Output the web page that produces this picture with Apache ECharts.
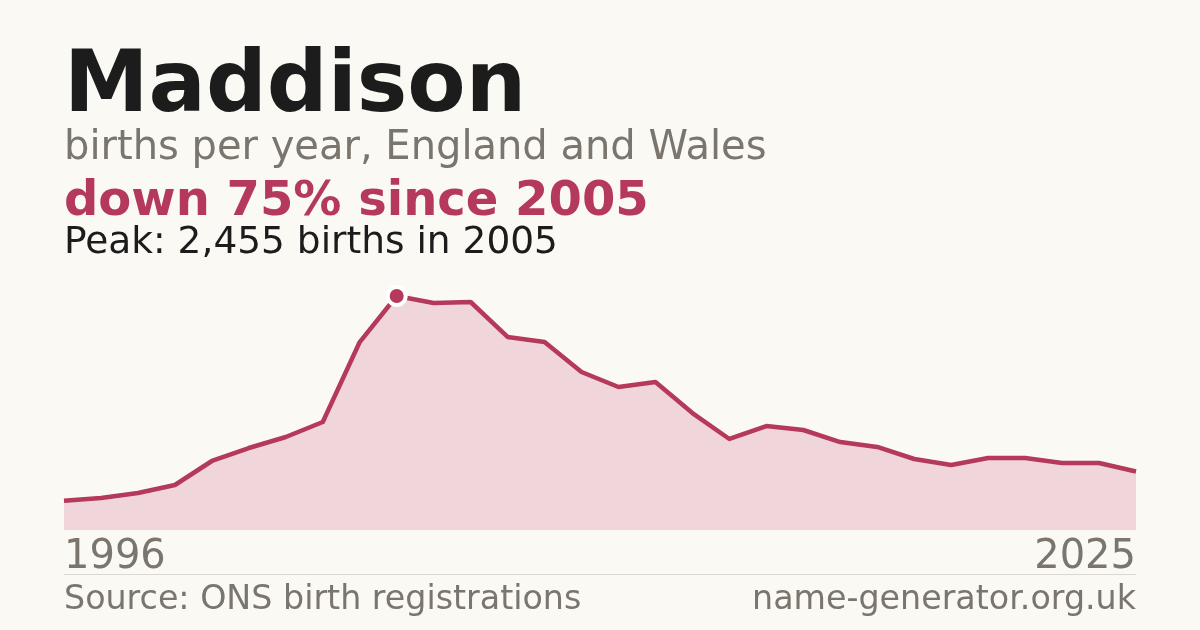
<!DOCTYPE html>
<html>
<head>
<meta charset="utf-8">
<script src="https://cdn.jsdelivr.net/npm/echarts@6/dist/echarts.min.js"></script>
<style>
  html, body { margin: 0; padding: 0; background: #faf9f4; }
  #chart { width: 1200px; height: 630px; }
</style>
</head>
<body>
<div id="chart"></div>
<script>
var years = ['1996', '1997', '1998', '1999', '2000', '2001', '2002', '2003', '2004', '2005',
  '2006', '2007', '2008', '2009', '2010', '2011', '2012', '2013', '2014', '2015',
  '2016', '2017', '2018', '2019', '2020', '2021', '2022', '2023', '2024', '2025'];
var births = [307, 336, 388, 472, 724, 860, 976, 1133, 1972, 2455,
  2381, 2392, 2025, 1972, 1658, 1500, 1553, 1227, 955, 1091,
  1049, 923, 871, 745, 682, 755, 755, 703, 703, 614];

var name = 'Maddison';
var subtitle = 'births per year, England and Wales';
var source = 'Source: ONS birth registrations';
var site = 'name-generator.org.uk';

// peak and change since peak
var peakIdx = 0;
for (var i = 1; i < births.length; i++) {
  if (births[i] > births[peakIdx]) peakIdx = i;
}
var peak = births[peakIdx];
var drop = Math.round((1 - births[births.length - 1] / peak) * 100);

var red = '#b5395a';
var grey = '#7a756d';
var font = 'DejaVu Sans';

var chart = echarts.init(document.getElementById('chart'));

chart.setOption({
  backgroundColor: '#faf9f4',
  animation: false,
  grid: { left: 64, right: 64, top: 296, bottom: 100 },
  xAxis: {
    type: 'category',
    data: years,
    boundaryGap: false,
    axisLine: { show: false },
    axisTick: { show: false },
    splitLine: { show: false },
    axisLabel: {
      interval: function (i) { return i === 0 || i === years.length - 1; },
      alignMinLabel: 'left',
      alignMaxLabel: 'right',
      verticalAlign: 'middle',
      margin: 28,
      fontFamily: font,
      fontSize: 40,
      color: grey
    }
  },
  yAxis: {
    type: 'value',
    min: 0,
    max: peak,
    show: false
  },
  graphic: [
    { type: 'text', left: 64, top: 46, style: { text: name, fontFamily: font, fontWeight: 'bold', fontSize: 85, fill: '#1c1c1c' } },
    { type: 'text', left: 64, top: 129, style: { text: subtitle, fontFamily: font, fontSize: 40, fill: grey } },
    { type: 'text', left: 64, top: 179, style: { text: 'down ' + drop + '% since ' + years[peakIdx], fontFamily: font, fontWeight: 'bold', fontSize: 48, fill: red } },
    { type: 'text', left: 64, top: 224, style: { text: 'Peak: ' + peak.toLocaleString('en-GB') + ' births in ' + years[peakIdx], fontFamily: font, fontSize: 37.5, fill: '#1c1c1c' } },
    { type: 'line', shape: { x1: 64, y1: 574.5, x2: 1136, y2: 574.5 }, style: { stroke: '#dcd8cf', lineWidth: 1 } },
    { type: 'text', left: 64, top: 584, style: { text: source, fontFamily: font, fontSize: 33.3, fill: grey } },
    { type: 'text', right: 64, top: 584, style: { text: site, fontFamily: font, fontSize: 33.3, fill: grey, align: 'right' } }
  ],
  series: [
    {
      type: 'line',
      data: births,
      showSymbol: false,
      lineStyle: { color: red, width: 4.5, join: 'round' },
      areaStyle: { color: '#f0d5da', opacity: 1 },
      z: 2
    },
    {
      type: 'scatter',
      data: [[years[peakIdx], peak]],
      symbol: 'circle',
      symbolSize: 18,
      itemStyle: { color: red, borderColor: '#ffffff', borderWidth: 4, opacity: 1 },
      z: 3
    }
  ]
});
</script>
</body>
</html>
